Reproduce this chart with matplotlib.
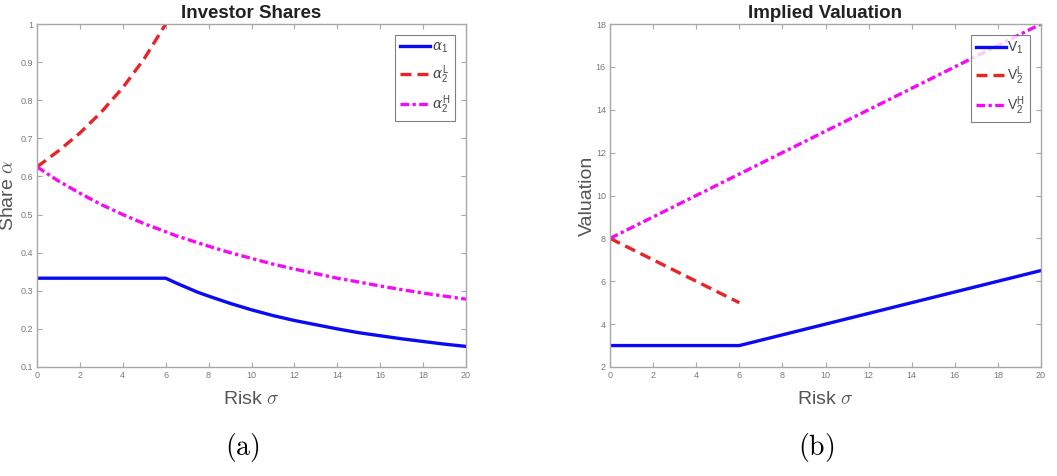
import matplotlib
matplotlib.use("Agg")
import matplotlib.pyplot as plt
from matplotlib.ticker import FuncFormatter

plt.rcParams['font.family'] = ['Liberation Sans', 'DejaVu Sans']
plt.rcParams['mathtext.fontset'] = 'custom'
plt.rcParams['mathtext.rm'] = 'Liberation Sans'
plt.rcParams['mathtext.sf'] = 'Liberation Sans'
plt.rcParams['mathtext.it'] = 'DejaVu Serif:italic'
plt.rcParams['mathtext.cal'] = 'DejaVu Serif'

# ---- data ----
sigma = [0, 1, 2, 3, 4, 5, 6, 6.5, 7, 7.5, 8, 9, 10, 11, 12, 13, 14, 15, 16, 17, 18, 19, 20]
sigma_L = [0, 1, 2, 3, 4, 5, 6]

alpha_1 = [0.333, 0.333, 0.333, 0.333, 0.333, 0.333, 0.333, 0.320, 0.308, 0.296, 0.286, 0.267,
           0.250, 0.235, 0.222, 0.211, 0.200, 0.190, 0.182, 0.174, 0.167, 0.160, 0.154]
alpha_2L = [0.625, 0.667, 0.714, 0.769, 0.833, 0.909, 1.000]
alpha_2H = [0.625, 0.588, 0.556, 0.526, 0.500, 0.476, 0.455, 0.444, 0.435, 0.426, 0.417, 0.400,
            0.385, 0.370, 0.357, 0.345, 0.333, 0.323, 0.3125, 0.303, 0.294, 0.286, 0.278]

V_1 = [3, 3, 3, 3, 3, 3, 3, 3.125, 3.25, 3.375, 3.5, 3.75, 4, 4.25, 4.5, 4.75, 5, 5.25, 5.5, 5.75, 6, 6.25, 6.5]
V_2L = [8, 7.5, 7, 6.5, 6, 5.5, 5]
V_2H = [8, 8.5, 9, 9.5, 10, 10.5, 11, 11.25, 11.5, 11.75, 12, 12.5, 13, 13.5, 14, 14.5, 15, 15.5, 16, 16.5, 17, 17.5, 18]

x_ticks = [0, 2, 4, 6, 8, 10, 12, 14, 16, 18, 20]
y_ticks_a = [0.1, 0.2, 0.3, 0.4, 0.5, 0.6, 0.7, 0.8, 0.9, 1.0]
y_ticks_b = [2, 4, 6, 8, 10, 12, 14, 16, 18]

BLUE = '#0a0af5'
RED = '#e82428'
MAG = '#f50af5'
GRAY = '#7a7a7a'
LABEL = '#555555'
EDGE = '#a8a8a8'

fig = plt.figure(figsize=(10.57, 4.76), dpi=100)
axA = fig.add_axes([37/1057, 1-367/476, (466-37)/1057, (367-24)/476])
axB = fig.add_axes([610/1057, 1-367/476, (1041-610)/1057, (367-24)/476])

def fmt(v, pos):
    return '%g' % v

def style(ax, yt, ylim):
    ax.set_xlim(0, 20)
    ax.set_ylim(*ylim)
    ax.set_xticks(x_ticks)
    ax.set_yticks(yt)
    ax.xaxis.set_major_formatter(FuncFormatter(fmt))
    ax.yaxis.set_major_formatter(FuncFormatter(fmt))
    ax.tick_params(direction='in', top=True, right=True, length=3.5, width=0.8,
                   color=EDGE, labelcolor=GRAY, labelsize=6.5, pad=3)
    for s in ax.spines.values():
        s.set_color(EDGE)
        s.set_linewidth(1.0)

lw = 2.4
dsh = (3.3, 1.8)
dd = (2.6, 1.0, 1.0, 1.0)
axA.plot(sigma, alpha_1, '-', color=BLUE, lw=lw, label=r'$\mathit{\alpha}_{\mathsf{1}}$')
axA.plot(sigma_L, alpha_2L, '--', color=RED, lw=lw, dashes=dsh, label=r'$\mathit{\alpha}_{\mathsf{2}}^{\mathsf{L}}$')
axA.plot(sigma, alpha_2H, '-.', color=MAG, lw=lw, dashes=dd, label=r'$\mathit{\alpha}_{\mathsf{2}}^{\mathsf{H}}$')
style(axA, y_ticks_a, (0.1, 1.0))
axA.set_title('Investor Shares', fontsize=13.5, fontweight='bold', pad=4, color='#222222')
axA.set_xlabel(r'Risk $\sigma$', fontsize=14, color=LABEL, labelpad=8, math_fontfamily='cm')
axA.set_ylabel(r'Share $\alpha$', fontsize=14, color=LABEL, labelpad=2, math_fontfamily='cm')

axB.plot(sigma, V_1, '-', color=BLUE, lw=lw, label=r'$\mathsf{V}_{\mathsf{1}}$')
axB.plot(sigma_L, V_2L, '--', color=RED, lw=lw, dashes=dsh, label=r'$\mathsf{V}_{\mathsf{2}}^{\mathsf{L}}$')
axB.plot(sigma, V_2H, '-.', color=MAG, lw=lw, dashes=dd, label=r'$\mathsf{V}_{\mathsf{2}}^{\mathsf{H}}$')
style(axB, y_ticks_b, (2, 18))
axB.set_title('Implied Valuation', fontsize=13.5, fontweight='bold', pad=4, color='#222222')
axB.set_xlabel(r'Risk $\sigma$', fontsize=14, color=LABEL, labelpad=8, math_fontfamily='cm')
axB.set_ylabel('Valuation', fontsize=14, color=LABEL, labelpad=0)

for ax in (axA, axB):
    leg = ax.legend(loc='upper right', fontsize=10, frameon=True, fancybox=False,
                    edgecolor='#606060', handlelength=2.2, handletextpad=0.1,
                    borderpad=0.35, labelspacing=0.55, borderaxespad=0.8)
    leg.get_frame().set_linewidth(0.8)
    for t in leg.get_texts():
        t.set_color('#444444')

fig.text(242/1057, 1-447/476, r'$\mathrm{(a)}$', fontsize=20, ha='center', va='center',
         math_fontfamily='cm')
fig.text(816/1057, 1-447/476, r'$\mathrm{(b)}$', fontsize=20, ha='center', va='center',
         math_fontfamily='cm')

fig.savefig('out.png', dpi=100)
